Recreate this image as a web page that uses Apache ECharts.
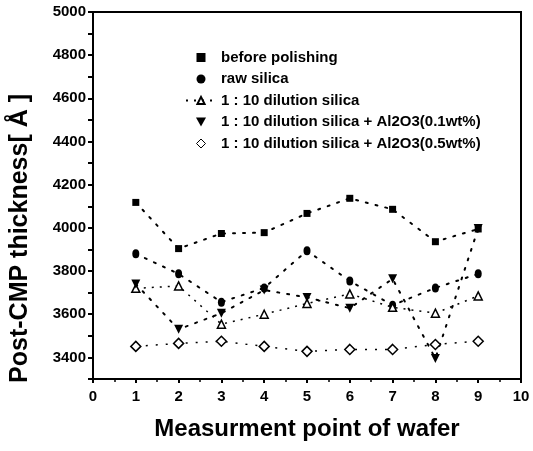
<!DOCTYPE html>
<html>
<head>
<meta charset="utf-8">
<script src="https://cdn.jsdelivr.net/npm/echarts@6/dist/echarts.min.js"></script>
<style>
html,body{margin:0;padding:0;background:#fff;}
#chart{width:533px;height:451px;}
</style>
</head>
<body>
<div id="chart"></div>
<script>
var points = [1, 2, 3, 4, 5, 6, 7, 8, 9];
var beforePolishing = [4118, 3904, 3974, 3978, 4067, 4137, 4086, 3936, 3995];
var rawSilica = [3880, 3787, 3656, 3722, 3894, 3754, 3642, 3722, 3787];
var dilution = [3720, 3731, 3554, 3600, 3650, 3694, 3632, 3605, 3685];
var al01 = [3740, 3530, 3605, 3712, 3678, 3628, 3764, 3395, 3997];
var al05 = [3451, 3465, 3475, 3451, 3428, 3437, 3437, 3460, 3475];
var names = ['before polishing', 'raw silica', '1 : 10 dilution silica',
	'1 : 10 dilution silica + Al2O3(0.1wt%)', '1 : 10 dilution silica + Al2O3(0.5wt%)'];

function pairs(vals){
	var out = [];
	for(var i=0;i<points.length;i++){
		out.push([points[i], vals[i]]);
	}
	return out;
}

var font = 'Liberation Sans';
var dots = {color:'#000', width:2, type:[2,8], cap:'round'};

var chart = echarts.init(document.getElementById('chart'));
var option = {
	animation:false,
	backgroundColor:'#fff',
	grid:{left:93, right:12, top:12, bottom:72, show:true, borderColor:'#000', borderWidth:2},
	legend:{
		orient:'vertical',
		left:180, top:45,
		itemWidth:30, itemHeight:9, itemGap:6.5,
		textStyle:{color:'#000', fontFamily:font, fontWeight:'bold', fontSize:15, lineHeight:15},
		data:[
			{name:names[0], icon:'path://M0,0L10,0L10,10L0,10Z'},
			{name:names[1], icon:'circle'},
			{name:names[2]},
			{name:names[3], icon:'path://M0,0L10,0L5,9Z'},
			{name:names[4], icon:'path://M5,0L10,5L5,10L0,5Z', itemStyle:{color:'#fff', borderColor:'#000', borderWidth:1}}
		]
	},
	xAxis:{
		type:'value', min:0, max:10, interval:1,
		axisLine:{lineStyle:{color:'#000', width:2}},
		axisTick:{length:4, lineStyle:{color:'#000', width:2}},
		minorTick:{show:true, splitNumber:2, length:3, lineStyle:{color:'#000', width:1.5}},
		splitLine:{show:false},
		axisLabel:{color:'#000', fontFamily:font, fontWeight:'bold', fontSize:15, margin:10},
		name:'Measurment point of wafer',
		nameLocation:'middle', nameGap:38,
		nameTextStyle:{color:'#000', fontFamily:font, fontWeight:'bold', fontSize:24}
	},
	yAxis:{
		type:'value', min:3300, max:5000, interval:100,
		axisLine:{lineStyle:{color:'#000', width:2}},
		axisTick:{length:5, lineStyle:{color:'#000', width:2}},
		splitLine:{show:false},
		axisLabel:{color:'#000', fontFamily:font, fontWeight:'bold', fontSize:15, margin:7,
			formatter:function(v){ return v % 200 == 0 ? v : ''; }}
	},
	graphic:[{
		type:'text', left:8, top:94, rotation:Math.PI/2,
		style:{text:'Post-CMP thickness[ Å ]', fill:'#000', font:'bold 25px "Liberation Sans"'}
	}],
	series:[{
		name:names[0], type:'line', data:pairs(beforePolishing),
		symbol:'rect', symbolSize:7, itemStyle:{color:'#000'}, lineStyle:dots
	},{
		name:names[1], type:'line', data:pairs(rawSilica),
		symbol:'circle', symbolSize:[7,9], itemStyle:{color:'#000'}, lineStyle:dots
	},{
		name:names[2], type:'line', data:pairs(dilution),
		symbol:'triangle', symbolSize:8, itemStyle:{color:'#fff', borderColor:'#000', borderWidth:1.5},
		lineStyle:{color:'#000', width:1.5, type:[2,6]}
	},{
		name:names[3], type:'line', data:pairs(al01),
		symbol:'triangle', symbolRotate:180, symbolSize:9, itemStyle:{color:'#000'}, lineStyle:dots
	},{
		name:names[4], type:'line', data:pairs(al05),
		symbol:'diamond', symbolSize:10, itemStyle:{color:'#fff', borderColor:'#000', borderWidth:1.5},
		lineStyle:{color:'#000', width:1.5, type:[2,8]}
	}]
};
chart.setOption(option);
</script>
</body>
</html>
